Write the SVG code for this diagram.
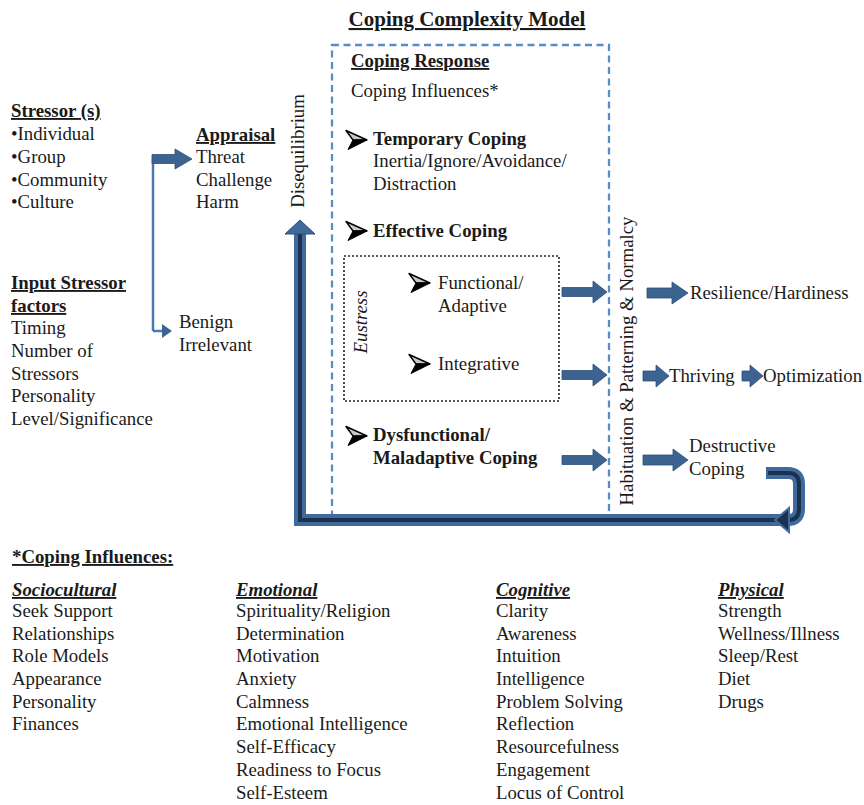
<svg xmlns="http://www.w3.org/2000/svg" xmlns:xlink="http://www.w3.org/1999/xlink" width="864" height="805" viewBox="0 0 864 805">
<style>
.t{font-family:"Liberation Serif","Times New Roman",serif;font-size:18.8px;fill:#1a1a1a}
.b{font-weight:bold}
.i{font-style:italic}
.u{text-decoration:underline}
.ttl{font-size:21px}
.blk{fill:#3d6391;stroke:#2c4e78;stroke-width:0.8}
.thin{fill:none;stroke:#4d78ad;stroke-width:2.5}
</style>
<defs>
<g id="bul">
<polygon points="0,-9.5 21,0 7,0" fill="#c8c8c8" stroke="#000" stroke-width="1.4" stroke-linejoin="round"/>
<polygon points="7,0 21,0 2,9.5" fill="#000" stroke="#000" stroke-width="1"/>
</g>
<path id="sarr" d="M0,-4.5 H31 V-11 L45,0 L31,11 V4.5 H0 Z"/>
</defs>
<rect width="864" height="805" fill="#fff"/>

<g id="title"><text class="t b u ttl" x="467" y="26" text-anchor="middle">Coping Complexity Model</text></g>

<g id="stressors">
<text class="t b u" x="11" y="117">Stressor (s)</text>
<text class="t" x="11" y="140">•Individual</text>
<text class="t" x="11" y="163">•Group</text>
<text class="t" x="11" y="186">•Community</text>
<text class="t" x="11" y="208">•Culture</text>
</g>
<g id="input-factors">
<text class="t b u" x="11" y="289">Input Stressor</text>
<text class="t b u" x="11" y="312">factors</text>
<text class="t" x="11" y="334">Timing</text>
<text class="t" x="11" y="357">Number of</text>
<text class="t" x="11" y="380">Stressors</text>
<text class="t" x="11" y="402">Personality</text>
<text class="t" x="11" y="425">Level/Significance</text>
</g>

<g id="appraisal">
<text class="t b u" x="196" y="141">Appraisal</text>
<text class="t" x="196" y="163">Threat</text>
<text class="t" x="196" y="186">Challenge</text>
<text class="t" x="196" y="208">Harm</text>
</g>
<g id="benign">
<text class="t" x="179" y="328">Benign</text>
<text class="t" x="179" y="351">Irrelevant</text>
</g>

<g id="disequilibrium"><text class="t" transform="translate(304,151) rotate(-90)" text-anchor="middle">Disequilibrium</text></g>

<g id="coping-response">
<rect x="332" y="45" width="277" height="471" fill="none" stroke="#5a8cc8" stroke-width="2.3" stroke-dasharray="7 4.5"/>
<text class="t b u" x="351" y="67">Coping Response </text>
<text class="t" x="351" y="97">Coping Influences*</text>
<use xlink:href="#bul" x="346" y="140"/>
<text class="t b" x="373" y="145">Temporary Coping</text>
<text class="t" x="373" y="167">Inertia/Ignore/Avoidance/</text>
<text class="t" x="373" y="190">Distraction</text>
<use xlink:href="#bul" x="346" y="231"/>
<text class="t b" x="373" y="237">Effective Coping</text>
<use xlink:href="#bul" x="346" y="436"/>
<text class="t b" x="373" y="441">Dysfunctional/</text>
<text class="t b" x="373" y="464">Maladaptive Coping</text>
</g>

<g id="eustress">
<rect x="344" y="256" width="215" height="145" fill="none" stroke="#222" stroke-width="1.6" stroke-dasharray="2 2"/>
<text class="t i" transform="translate(367,322) rotate(-90)" text-anchor="middle">Eustress</text>
<use xlink:href="#bul" x="409" y="283"/>
<text class="t" x="438" y="289">Functional/</text>
<text class="t" x="438" y="312">Adaptive</text>
<use xlink:href="#bul" x="409" y="364"/>
<text class="t" x="438" y="370">Integrative</text>
</g>

<g id="habituation"><text class="t" transform="translate(633,361) rotate(-90)" text-anchor="middle">Habituation &amp; Patterning &amp; Normalcy</text></g>

<g id="resilience"><text class="t" x="690" y="299">Resilience/Hardiness</text></g>
<g id="thriving"><text class="t" x="669" y="382">Thriving</text></g>
<g id="optimization"><text class="t" x="763" y="382">Optimization</text></g>
<g id="destructive">
<text class="t" x="689" y="452">Destructive</text>
<text class="t" x="689" y="475">Coping</text>
</g>

<g id="connectors">
<path class="thin" d="M153,159 V331"/>
<path class="blk" d="M152,154.5 H175 V149 L192,159 L175,169 V163.5 H152 Z"/>
<path class="thin" d="M153,331 H165"/>
<polygon points="162,324 172,331 162,338" fill="#3d6391"/>
<use xlink:href="#sarr" class="blk" x="562" y="292"/>
<use xlink:href="#sarr" class="blk" x="562" y="375"/>
<use xlink:href="#sarr" class="blk" x="562" y="460"/>
<path class="blk" d="M647,288 H672 V282 L688,293 L672,304 V298 H647 Z"/>
<path class="blk" d="M643,371 H656 V365 L669,376 L656,387 V381 H643 Z"/>
<path class="blk" d="M742,371 H750 V365 L763,376 L750,387 V381 H742 Z"/>
<path class="blk" d="M643,455 H673 V449 L688,460 L673,471 V465 H643 Z"/>
<path d="M766,473 H788 Q799,473 799,484 V509 Q799,520 788,520 H300 V233" fill="none" stroke="#3f6a9b" stroke-width="12" stroke-linejoin="miter"/>
<path d="M768,473 H788 Q799,473 799,484 V509 Q799,520 788,520 H300 V234" fill="none" stroke="#1b314f" stroke-width="4"/>
<polygon points="285,234 300,220 315,234" fill="#3f6a9b" stroke="#2c4e78" stroke-width="1"/>
<polygon points="789,508 775,520 789,532" fill="#1b314f" stroke="#3f6a9b" stroke-width="2"/>
</g>

<g id="coping-influences">
<text class="t b u" x="12" y="563">*Coping Influences:</text>
<g id="sociocultural">
<text class="t b i u" x="12" y="596">Sociocultural</text>
<text class="t" x="12" y="617">Seek Support</text>
<text class="t" x="12" y="640">Relationships</text>
<text class="t" x="12" y="662">Role Models</text>
<text class="t" x="12" y="685">Appearance</text>
<text class="t" x="12" y="708">Personality</text>
<text class="t" x="12" y="730">Finances</text>
</g>
<g id="emotional">
<text class="t b i u" x="236" y="596">Emotional</text>
<text class="t" x="236" y="617">Spirituality/Religion</text>
<text class="t" x="236" y="640">Determination</text>
<text class="t" x="236" y="662">Motivation</text>
<text class="t" x="236" y="685">Anxiety</text>
<text class="t" x="236" y="708">Calmness</text>
<text class="t" x="236" y="730">Emotional Intelligence</text>
<text class="t" x="236" y="753">Self-Efficacy</text>
<text class="t" x="236" y="776">Readiness to Focus</text>
<text class="t" x="236" y="799">Self-Esteem</text>
</g>
<g id="cognitive">
<text class="t b i u" x="496" y="596">Cognitive</text>
<text class="t" x="496" y="617">Clarity</text>
<text class="t" x="496" y="640">Awareness</text>
<text class="t" x="496" y="662">Intuition</text>
<text class="t" x="496" y="685">Intelligence</text>
<text class="t" x="496" y="708">Problem Solving</text>
<text class="t" x="496" y="730">Reflection</text>
<text class="t" x="496" y="753">Resourcefulness</text>
<text class="t" x="496" y="776">Engagement</text>
<text class="t" x="496" y="799">Locus of Control</text>
</g>
<g id="physical">
<text class="t b i u" x="718" y="596">Physical</text>
<text class="t" x="718" y="617">Strength</text>
<text class="t" x="718" y="640">Wellness/Illness</text>
<text class="t" x="718" y="662">Sleep/Rest</text>
<text class="t" x="718" y="685">Diet</text>
<text class="t" x="718" y="708">Drugs</text>
</g>
</g>
</svg>
